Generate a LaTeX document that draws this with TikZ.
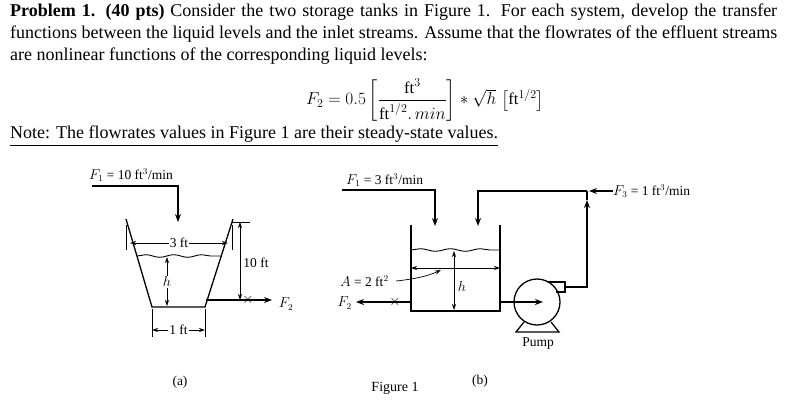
\documentclass[tikz,border=0pt]{standalone}
\usepackage{fontspec}
\setmainfont{Liberation Serif}
\usepackage{amsmath}
\usetikzlibrary{arrows.meta,decorations.pathmorphing}
\begin{document}
\begin{tikzpicture}[x=1pt,y=-1pt,
  txt/.style={font=\fontsize{18}{20}\selectfont,inner sep=0,anchor=west},
  lbl/.style={font=\fontsize{13.5}{15}\selectfont,inner sep=0},
  ln/.style={line width=1.3pt},
  arr/.style={ln,-{Stealth[length=8pt,width=6pt]}},
  dim/.style={line width=0.7pt,{Stealth[length=6pt,width=4pt]}-{Stealth[length=6pt,width=4pt]}}]
\useasboundingbox (0,0) rectangle (787,402);
% text
\node[txt] (l1) at (10,12) {\makebox[767pt][s]{\textbf{Problem 1. (40 pts)} Consider the two storage tanks in Figure 1. For each system, develop the transfer}};
\node[txt] (l2) at (10,34) {\makebox[767pt][s]{functions between the liquid levels and the inlet streams. Assume that the flowrates of the effluent streams}};
\node[txt] (l3) at (10,56) {are nonlinear functions of the corresponding liquid levels:};
\node[txt,anchor=center,font=\fontsize{16.5}{18}\selectfont] (eq) at (425,100) {$F_2=0.5\left[\dfrac{\mathrm{ft}^3}{\mathrm{ft}^{1/2}.\,min}\right]*\sqrt{h}\;\bigl[\mathrm{ft}^{1/2}\bigr]$};
\node[txt] (note) at (10,136) {\underline{Note: The flowrates values in Figure 1 are their steady-state values.}};
% ---- (a)
\node[lbl,anchor=west] (fa1) at (89,175) {$F_1$ = 10 ft$^3$/min};
\draw[arr] (92,186) -- (178,186) -- (178,222);
\draw[ln] (126,219) -- (152,307) -- (205,307) -- (233,219);
\draw[line width=0.9pt,decorate,decoration={snake,amplitude=1.3pt,segment length=28pt}] (137,256) -- (222,256);
\draw[line width=0.6pt] (126,225) -- (126,250);
\draw[line width=0.6pt] (232,225) -- (232,250);
\draw[dim] (130,243) -- node[lbl,fill=white,inner sep=1pt]{3 ft} (228,243);
\draw[line width=0.6pt] (232,222) -- (250,222);
\draw[dim] (240,222) -- (240,300);
\node[lbl] (ten) at (256,263) {10 ft};
\draw[dim] (167,257) -- node[lbl,fill=white,inner sep=1pt]{$h$} (167,306);
\draw[arr] (206,300) -- (272,300);
\node[lbl] (xa) at (248,300) {$\times$};
\node[lbl] (fa2) at (286,304) {$F_2$};
\draw[line width=0.6pt] (152,309) -- (152,337) (205,309) -- (205,337);
\draw[dim] (152,330) -- node[lbl,fill=white,inner sep=1pt]{1 ft} (205,330);
\node[lbl] (cap_a) at (180,382) {(a)};
% ---- (b)
\node[lbl,anchor=west] (fb1) at (346,180) {$F_1$ = 3 ft$^3$/min};
\draw[arr] (342,190) -- (435,190) -- (435,226);
\draw[arr] (587,191) -- (478,191) -- (478,226);
\node[lbl,anchor=west] (fb3) at (613,191) {$F_3$ = 1 ft$^3$/min};
\draw[arr] (613,191) -- (589,191);
\draw[ln] (411,225) -- (411,311) -- (500,311) -- (500,225);
\draw[line width=0.9pt,decorate,decoration={snake,amplitude=1.3pt,segment length=30pt}] (411,250) -- (500,250);
\draw[dim] (411,268) -- (500,268);
\draw[dim] (454,251) -- (454,310);
\node[lbl] (hb) at (462,286) {$h$};
\node[lbl,anchor=west] (Ab) at (340,281) {$A$ = 2 ft$^2$};
\draw[line width=0.7pt,-{Stealth[length=6pt,width=4pt]}] (396,281) .. controls (415,279) and (428,276) .. (441,270);
\draw[arr] (411,302) -- (356,302);
\node[lbl] (xb) at (395,302) {$\times$};
\node[lbl,anchor=east] (fb2) at (352,303) {$F_2$};
% pump
\node[circle,draw,line width=1.3pt,minimum size=46pt,inner sep=0] (pump) at (537,302) {};
\draw[line width=1.2pt] (524,322) -- (516,332) -- (559,332) -- (551,322);
\draw[line width=1.2pt] (548,282) -- (565,282) -- (565,292) -- (556,292);
\draw[arr] (500,302) -- (543,302);
\draw[arr] (565,287) -- (587,287) -- (587,200);
\draw[ln] (587,200) -- (587,191);
\node[lbl] (pl) at (538,344) {Pump};
\node[lbl] (cap_b) at (480,381) {(b)};
\node[lbl,font=\fontsize{14}{16}\selectfont] (fig) at (395,388) {Figure 1};
\end{tikzpicture}
\end{document}
